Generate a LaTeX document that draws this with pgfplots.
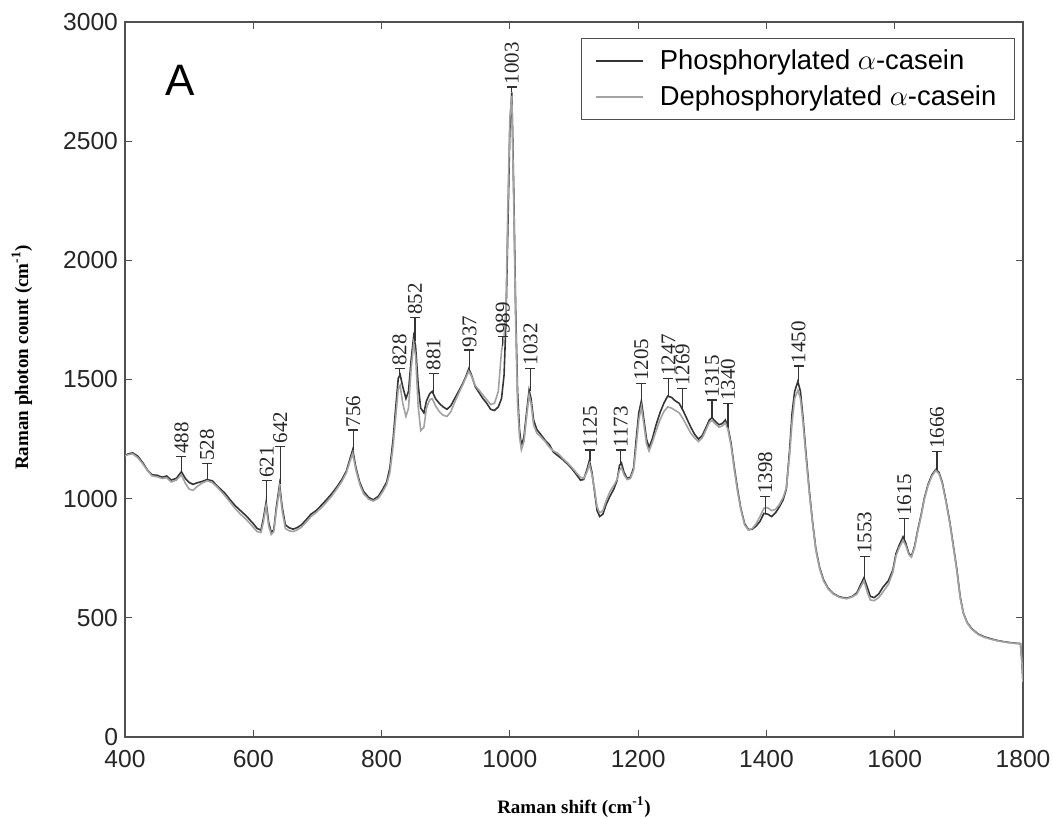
\documentclass[border=0pt]{standalone}
\usepackage{fontspec}
\setmainfont{Liberation Serif}
\setsansfont{Liberation Sans}
\usepackage{pgfplots}
\usepackage{pgfplotstable}
\pgfplotsset{compat=1.18}

\definecolor{phos}{HTML}{353535}
\definecolor{dephos}{HTML}{A2A2A2}
\definecolor{frame}{HTML}{505050}

% phosphorylated alpha-casein (dark)
\pgfplotstableread{
x y
400 1180
405 1188
412 1192
420 1178
428 1150
435 1120
442 1100
450 1098
458 1090
465 1095
472 1078
480 1085
488 1113
494 1085
500 1068
506 1060
512 1066
520 1072
528 1080
536 1075
545 1050
555 1025
564 995
572 970
580 950
590 925
600 895
606 875
612 868
616 920
620 985
624 900
628 858
632 870
636 965
641 1060
645 965
650 890
656 878
662 872
668 878
675 890
682 910
690 935
698 950
706 972
714 995
722 1020
730 1048
738 1080
745 1115
750 1160
755 1205
760 1130
766 1068
772 1030
780 1005
787 995
795 1010
802 1040
808 1070
813 1130
818 1250
822 1380
826 1505
829 1520
833 1470
838 1420
842 1450
846 1580
850 1680
853 1640
857 1480
861 1380
866 1360
870 1410
875 1440
879 1450
884 1420
890 1400
896 1385
902 1375
908 1390
914 1420
920 1450
926 1480
931 1510
936 1545
940 1520
946 1470
952 1445
958 1420
964 1400
970 1375
976 1370
982 1385
987 1420
991 1520
994 1750
997 2150
1000 2550
1003 2705
1006 2300
1009 1800
1012 1450
1015 1290
1018 1220
1022 1260
1026 1360
1030 1455
1033 1420
1037 1330
1042 1290
1048 1270
1055 1245
1062 1225
1068 1195
1075 1180
1082 1165
1090 1145
1097 1125
1104 1100
1110 1078
1115 1080
1120 1120
1124 1160
1128 1110
1132 1030
1136 950
1140 925
1145 935
1150 975
1156 1010
1162 1040
1167 1075
1171 1140
1174 1150
1178 1110
1183 1085
1188 1090
1193 1130
1197 1250
1201 1360
1205 1410
1209 1330
1213 1250
1217 1215
1222 1250
1228 1310
1234 1360
1240 1400
1246 1430
1252 1425
1258 1410
1264 1400
1270 1370
1276 1335
1282 1300
1288 1270
1294 1250
1300 1265
1306 1300
1311 1330
1315 1340
1320 1325
1326 1310
1331 1315
1336 1330
1340 1300
1345 1230
1350 1130
1355 1040
1360 960
1366 895
1372 870
1378 872
1384 885
1390 905
1396 938
1402 935
1408 925
1414 940
1420 965
1426 995
1431 1040
1436 1200
1440 1360
1444 1450
1449 1492
1453 1450
1457 1340
1462 1180
1467 1030
1472 900
1477 790
1483 710
1489 660
1496 625
1504 602
1514 588
1525 582
1534 590
1541 605
1547 640
1552 668
1557 630
1562 590
1568 585
1575 600
1582 630
1590 655
1597 700
1602 770
1607 805
1613 840
1617 815
1622 770
1626 758
1631 800
1636 870
1641 930
1646 1000
1652 1060
1658 1100
1664 1122
1669 1110
1674 1070
1680 990
1686 900
1691 810
1697 700
1702 590
1707 520
1713 480
1720 455
1730 432
1740 420
1750 412
1760 405
1770 400
1780 396
1790 393
1796 392
1798 330
1800 230
}\phos

% dephosphorylated alpha-casein (light)
\pgfplotstableread{
x y
400 1180
405 1185
412 1188
420 1172
428 1145
435 1118
442 1096
450 1092
458 1085
465 1088
472 1070
480 1078
488 1100
494 1065
500 1040
506 1035
512 1050
520 1065
528 1075
536 1068
545 1045
555 1015
564 985
572 958
580 935
590 910
600 880
606 862
612 858
616 905
620 970
624 885
628 850
632 862
636 950
641 1045
645 950
650 875
656 865
662 862
668 868
675 880
682 900
690 925
698 942
706 962
714 985
722 1010
730 1040
738 1072
745 1108
750 1150
755 1190
760 1120
766 1060
772 1020
780 998
787 990
795 1002
802 1030
808 1060
813 1110
818 1220
822 1340
826 1460
829 1475
833 1400
838 1345
842 1380
846 1540
850 1650
853 1600
857 1390
861 1285
866 1300
870 1380
875 1415
879 1420
884 1390
890 1365
896 1350
902 1345
908 1365
914 1405
920 1440
926 1475
931 1505
936 1535
940 1515
946 1475
952 1455
958 1435
964 1415
970 1395
976 1400
982 1450
987 1620
991 1680
994 1800
997 2250
1000 2600
1003 2690
1006 2250
1009 1750
1012 1400
1015 1260
1018 1205
1022 1240
1026 1340
1030 1435
1033 1400
1037 1310
1042 1275
1048 1260
1055 1240
1062 1215
1068 1200
1075 1190
1082 1170
1090 1150
1097 1130
1104 1108
1110 1090
1115 1085
1120 1110
1124 1145
1128 1100
1132 1040
1136 965
1140 940
1145 950
1150 990
1156 1030
1162 1055
1167 1080
1171 1120
1174 1130
1178 1100
1183 1080
1188 1085
1193 1120
1197 1220
1201 1330
1205 1385
1209 1310
1213 1230
1217 1200
1222 1235
1228 1285
1234 1330
1240 1365
1246 1385
1252 1380
1258 1370
1264 1360
1270 1335
1276 1305
1282 1275
1288 1255
1294 1240
1300 1255
1306 1290
1311 1320
1315 1328
1320 1315
1326 1300
1331 1305
1336 1318
1340 1290
1345 1220
1350 1120
1355 1030
1360 955
1366 890
1372 868
1378 875
1384 895
1390 925
1396 960
1402 962
1408 950
1414 955
1420 975
1426 1005
1431 1045
1436 1180
1440 1320
1444 1420
1449 1455
1453 1420
1457 1320
1462 1165
1467 1020
1472 895
1477 785
1483 705
1489 655
1496 622
1504 600
1514 586
1525 580
1534 588
1541 600
1547 630
1552 655
1557 610
1562 575
1568 572
1575 585
1582 610
1590 640
1597 690
1602 760
1607 795
1613 825
1617 805
1622 765
1626 755
1631 795
1636 865
1641 925
1646 995
1652 1055
1658 1095
1664 1118
1669 1105
1674 1065
1680 985
1686 895
1691 805
1697 695
1702 585
1707 518
1713 478
1720 453
1730 430
1740 418
1750 410
1760 404
1770 399
1780 395
1790 392
1796 391
1798 330
1800 230
}\dephos

% peak markers: position, top of marker, marker length, label
\pgfplotstableread{
x top dy lab
488 1176 63 488
528 1148 68 528
621 1075 90 621
642 1220 160 642
756 1288 83 756
828 1545 25 828
852 1760 100 852
881 1526 86 881
937 1624 79 937
989 1680 40 989
1003 2727 22 1003
1032 1547 97 1032
1125 1204 44 1125
1173 1204 54 1173
1205 1484 74 1205
1247 1505 75 1247
1269 1463 91 1269
1315 1414 74 1315
1340 1400 100 1340
1398 1008 71 1398
1450 1557 65 1450
1553 757 89 1553
1615 917 87 1615
1666 1197 77 1666
}\peaks

\begin{document}
\begin{tikzpicture}
\begin{axis}[
    name=ax,
    scale only axis,
    width=449pt,
    height=357.5pt,
    xmin=400, xmax=1800,
    ymin=0, ymax=3000,
    xtick={400,600,...,1800},
    ytick={0,500,...,3000},
    scaled ticks=false,
    tick align=inside,
    major tick length=3.5pt,
    axis line style={frame, line width=0.6pt},
    every tick/.style={frame, line width=0.6pt},
    ticklabel style={font=\sffamily\fontsize{12.3}{14}\selectfont, text=black!85},
    /pgf/number format/assume math mode=true,
    /pgf/number format/1000 sep={},
    xticklabel style={yshift=-3pt},
    xlabel={Raman shift (cm\textsuperscript{-1})},
    ylabel={Raman photon count (cm\textsuperscript{-1})},
    xlabel style={at={(axis description cs:0.5,-0.1063)}, anchor=base,
        font=\bfseries\fontsize{9.5}{11}\selectfont},
    ylabel style={at={(axis description cs:-0.1149,0.531)}, anchor=center,
        font=\bfseries\fontsize{9.5}{11}\selectfont},
    legend style={
        at={(axis description cs:0.991,0.978)},
        anchor=north east,
        draw=frame,
        line width=0.6pt,
        font=\sffamily\fontsize{13.7}{16}\selectfont,
        inner xsep=7pt,
        inner ysep=3.5pt,
        row sep=2.6pt,
        column sep=6pt,
    },
    legend cell align=left,
    legend image code/.code={\draw[#1] (0pt,0pt) -- (23.5pt,0pt);},
]
\addplot[phos, line width=0.8pt] table[x=x, y=y] {\phos};
\addlegendentry{Phosphorylated $\alpha$-casein}
\addplot[dephos, line width=0.8pt] table[x=x, y=y] {\dephos};
\addlegendentry{Dephosphorylated $\alpha$-casein}

\addplot[forget plot, black!80, line width=0.6pt, only marks,
    mark=-, mark size=2.5pt, mark options={line width=0.6pt},
    error bars/.cd, y dir=minus, y explicit, error mark=none,
    error bar style={black!80, line width=0.6pt}]
    table[x=x, y=top, y error=dy] {\peaks};

\addplot[forget plot, draw=none, only marks, mark=none,
    point meta=explicit symbolic,
    nodes near coords,
    nodes near coords style={rotate=90, anchor=west, inner sep=1.2pt,
        font=\fontsize{10.5}{12}\selectfont, text=black!85}]
    table[x=x, y=top, meta=lab] {\peaks};

\node[font=\sffamily\fontsize{22}{26}\selectfont] at (rel axis cs:0.0612,0.919) {A};
\end{axis}
\pgfresetboundingbox
\path ([shift={(-62.5pt,-40.5pt)}]ax.south west) rectangle ([shift={(15pt,11pt)}]ax.north east);
\end{tikzpicture}
\end{document}
